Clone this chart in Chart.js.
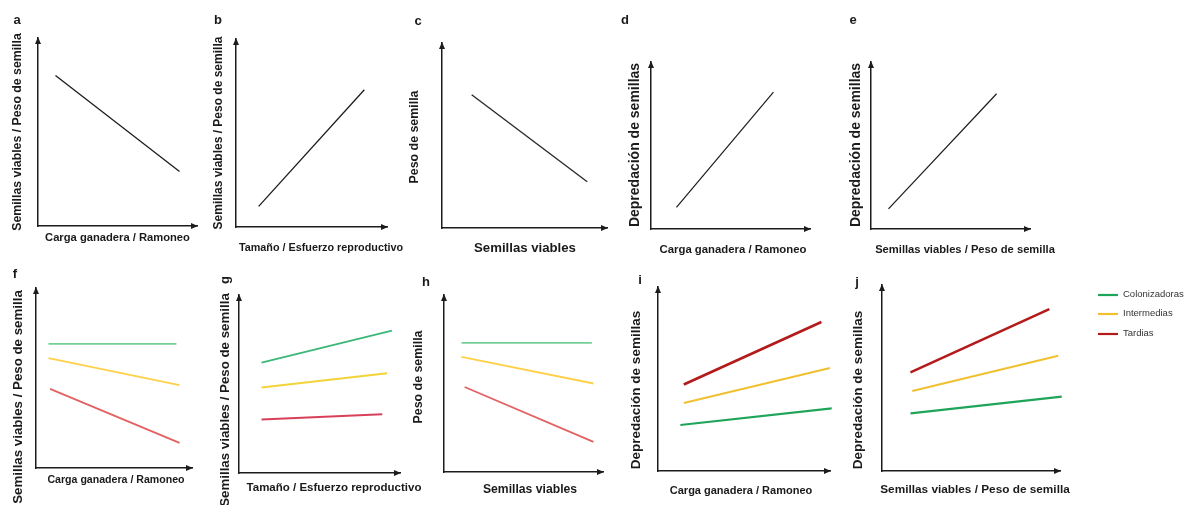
<!DOCTYPE html>
<html>
<head>
<meta charset="utf-8">
<script src="https://cdn.jsdelivr.net/npm/chart.js@4.4.1/dist/chart.umd.min.js"></script>
<style>
html,body{margin:0;padding:0;background:#fff;}
body{width:1187px;height:505px;position:relative;overflow:hidden;}
canvas{position:absolute;}
</style>
</head>
<body>
<script>
// ---------- DATA (conceptual axes, arbitrary 0–10 units) ----------
const seriesNames = ['Colonizadoras', 'Intermedias', 'Tardias'];
const axisMin = 0;
const axisMax = 10;

const aLine = [[1.1, 8.0], [8.9, 2.9]];
const bLine = [[1.5, 1.1], [8.5, 7.3]];
const cLine = [[1.8, 7.2], [8.8, 2.5]];
const dLine = [[1.6, 1.3], [7.7, 8.2]];
const eLine = [[1.1, 1.2], [7.9, 8.1]];

const fColonizadoras = [[0.8, 6.9], [9.0, 6.9]];
const fIntermedias   = [[0.8, 6.1], [9.2, 4.6]];
const fTardias       = [[0.9, 4.4], [9.2, 1.4]];

const gColonizadoras = [[1.4, 6.2], [9.5, 8.0]];
const gIntermedias   = [[1.4, 4.8], [9.2, 5.6]];
const gTardias       = [[1.4, 3.0], [8.9, 3.3]];

const hColonizadoras = [[1.1, 7.3], [9.3, 7.3]];
const hIntermedias   = [[1.1, 6.5], [9.4, 5.0]];
const hTardias       = [[1.3, 4.8], [9.4, 1.7]];

const iColonizadoras = [[1.3, 2.5], [10.1, 3.4]];
const iIntermedias   = [[1.5, 3.7], [10.0, 5.6]];
const iTardias       = [[1.5, 4.7], [9.5, 8.1]];

const jColonizadoras = [[1.6, 3.1], [10.1, 4.0]];
const jIntermedias   = [[1.7, 4.3], [9.9, 6.2]];
const jTardias       = [[1.6, 5.3], [9.4, 8.7]];

const panelLetters = ['a', 'b', 'c', 'd', 'e', 'f', 'g', 'h', 'i', 'j'];
const yTitles = [
  'Semillas viables / Peso de semilla', 'Semillas viables / Peso de semilla', 'Peso de semilla',
  'Depredación de semillas', 'Depredación de semillas',
  'Semillas viables / Peso de semilla', 'Semillas viables / Peso de semilla', 'Peso de semilla',
  'Depredación de semillas', 'Depredación de semillas'
];
const xTitles = [
  'Carga ganadera / Ramoneo', 'Tamaño / Esfuerzo reproductivo', 'Semillas viables',
  'Carga ganadera / Ramoneo', 'Semillas viables / Peso de semilla',
  'Carga ganadera / Ramoneo', 'Tamaño / Esfuerzo reproductivo', 'Semillas viables',
  'Carga ganadera / Ramoneo', 'Semillas viables / Peso de semilla'
];

// ---------- STYLE / LAYOUT ----------
const FONT = '"Liberation Sans", Arial, Helvetica, sans-serif';
const INK = '#1c1c1c';
const pale = {g: '#74cf97', y: '#ffd04a', r: '#e26262'};
const mid  = {g: '#3cb878', y: '#f2d43a', r: '#d8405a'};
const deep = {g: '#1fa55a', y: '#f0c030', r: '#b31b1b'};

const seriesSpec = [
  [[aLine, INK, 1.3]],
  [[bLine, INK, 1.3]],
  [[cLine, '#2a2a2a', 1.4]],
  [[dLine, INK, 1.2]],
  [[eLine, INK, 1.2]],
  [[fColonizadoras, pale.g, 1.8], [fIntermedias, pale.y, 1.8], [fTardias, pale.r, 1.8]],
  [[gColonizadoras, mid.g, 2], [gIntermedias, mid.y, 2], [gTardias, mid.r, 2]],
  [[hColonizadoras, pale.g, 1.8], [hIntermedias, pale.y, 1.8], [hTardias, pale.r, 1.8]],
  [[iColonizadoras, deep.g, 2.2], [iIntermedias, deep.y, 2], [iTardias, deep.r, 2.6]],
  [[jColonizadoras, deep.g, 2.2], [jIntermedias, deep.y, 2], [jTardias, deep.r, 2.6]]
];

// ax: y-axis x, ay: x-axis y, xe: x-axis end, yt: y-axis top (page px)
// yT / xT: axis-title centre [x, y, font size]; L: panel letter [x, y, rotated]
const layoutSpec = [
  {ax: 38,  ay: 226, xe: 197,  yt: 38,  yT: [18, 132, 12.3],  xT: [117.5, 238, 11.2], L: [17, 20]},
  {ax: 236, ay: 227, xe: 387,  yt: 39,  yT: [219, 133, 12.0], xT: [321, 248, 10.8],   L: [218, 20]},
  {ax: 442, ay: 228, xe: 607,  yt: 43,  yT: [415, 137, 12.4], xT: [525, 248, 13.2],   L: [418, 21]},
  {ax: 651, ay: 229, xe: 810,  yt: 62,  yT: [635, 145, 14],   xT: [733, 250, 11.35],  L: [625, 20]},
  {ax: 871, ay: 229, xe: 1030, yt: 62,  yT: [856, 145, 14],   xT: [965, 250, 11.2],   L: [853, 20]},
  {ax: 36,  ay: 468, xe: 192,  yt: 288, yT: [18, 397, 13.3],  xT: [116, 480, 10.6],   L: [15, 274]},
  {ax: 239, ay: 473, xe: 400,  yt: 295, yT: [225, 400, 13.3], xT: [334, 488, 11.5],   L: [225, 280, true]},
  {ax: 444, ay: 472, xe: 603,  yt: 295, yT: [419, 377, 12.4], xT: [530, 490, 12.2],   L: [426, 282]},
  {ax: 658, ay: 471, xe: 830,  yt: 287, yT: [636, 390, 13.5], xT: [741, 491, 11],     L: [640, 280]},
  {ax: 882, ay: 471, xe: 1060, yt: 285, yT: [858, 390, 13.5], xT: [975, 490, 11.8],   L: [857, 282], cr: 1187,
   legend: {x1: 1098, x2: 1118, tx: 1123, ys: [295, 314, 334]}}
];

// ---------- PLUGIN: arrowheads, axis titles, panel letter, legend ----------
const panelDecor = {
  id: 'panelDecor',
  afterDraw(chart, args, o) {
    const {ctx, chartArea: a} = chart;
    ctx.save();
    ctx.fillStyle = INK;
    ctx.beginPath();
    ctx.moveTo(a.left, a.top - 1);
    ctx.lineTo(a.left - 3, a.top + 6);
    ctx.lineTo(a.left + 3, a.top + 6);
    ctx.closePath();
    ctx.fill();
    ctx.beginPath();
    ctx.moveTo(a.right + 1, a.bottom);
    ctx.lineTo(a.right - 6, a.bottom - 3);
    ctx.lineTo(a.right - 6, a.bottom + 3);
    ctx.closePath();
    ctx.fill();

    ctx.fillStyle = '#1a1a1a';
    ctx.textAlign = 'center';
    ctx.textBaseline = 'middle';
    // x-axis title
    ctx.font = 'bold ' + o.xT[2] + 'px ' + FONT;
    ctx.fillText(o.xText, o.xT[0], o.xT[1]);
    // y-axis title (rotated)
    ctx.save();
    ctx.translate(o.yT[0], o.yT[1]);
    ctx.rotate(-Math.PI / 2);
    ctx.font = 'bold ' + o.yT[2] + 'px ' + FONT;
    ctx.fillText(o.yText, 0, 0);
    ctx.restore();
    // panel letter
    ctx.font = 'bold 13px ' + FONT;
    ctx.save();
    ctx.translate(o.L[0], o.L[1]);
    if (o.L[2]) ctx.rotate(-Math.PI / 2);
    ctx.fillText(o.letter, 0, 0);
    ctx.restore();

    if (o.legend) {
      const Lg = o.legend;
      chart.data.datasets.forEach((ds, k) => {
        ctx.strokeStyle = ds.borderColor;
        ctx.lineWidth = 2.2;
        ctx.beginPath();
        ctx.moveTo(Lg.x1, Lg.ys[k]);
        ctx.lineTo(Lg.x2, Lg.ys[k]);
        ctx.stroke();
        ctx.fillStyle = '#333';
        ctx.font = '9.5px ' + FONT;
        ctx.textAlign = 'left';
        ctx.fillText(ds.label, Lg.tx, Lg.ys[k] - 1);
      });
    }
    ctx.restore();
  }
};

// ---------- BUILD ----------
layoutSpec.forEach((p, i) => {
  const row2 = i >= 5;
  const cl = Math.floor(Math.min(p.yT[0] - p.yT[2] * 0.8, p.L[0] - 9));
  const ct = row2 ? 255 : 0;
  const cb = row2 ? 505 : 258;
  const cr = p.cr || Math.ceil(Math.max(p.xe + 12, p.xT[0] + 125));

  const cv = document.createElement('canvas');
  cv.width = cr - cl;
  cv.height = cb - ct;
  cv.style.left = cl + 'px';
  cv.style.top = ct + 'px';
  document.body.appendChild(cv);

  const rel = (pt) => [pt[0] - cl, pt[1] - ct, pt[2]];

  const specs = seriesSpec[i];
  const datasets = specs.map((s, k) => ({
    label: specs.length > 1 ? seriesNames[k] : yTitles[i],
    data: s[0].map(([x, y]) => ({x, y})),
    borderColor: s[1],
    borderWidth: s[2],
    pointRadius: 0,
    pointHoverRadius: 0,
    fill: false,
    tension: 0,
    clip: false,
    borderCapStyle: 'butt'
  }));

  let legend = null;
  if (p.legend) {
    legend = {x1: p.legend.x1 - cl, x2: p.legend.x2 - cl, tx: p.legend.tx - cl,
              ys: p.legend.ys.map(v => v - ct)};
  }

  new Chart(cv, {
    type: 'line',
    data: {datasets},
    plugins: [panelDecor],
    options: {
      responsive: false,
      animation: false,
      events: [],
      layout: {padding: {left: p.ax - cl, top: p.yt - ct, right: cr - p.xe, bottom: cb - p.ay}},
      plugins: {
        legend: {display: false},
        tooltip: {enabled: false},
        panelDecor: {
          letter: panelLetters[i], L: rel(p.L),
          xText: xTitles[i], xT: rel(p.xT),
          yText: yTitles[i], yT: rel(p.yT),
          legend
        }
      },
      scales: {
        x: {
          type: 'linear', min: axisMin, max: axisMax,
          grid: {display: false, drawTicks: false},
          ticks: {display: false},
          border: {display: true, color: INK, width: 1.5},
          title: {display: false, text: xTitles[i]}
        },
        y: {
          type: 'linear', min: axisMin, max: axisMax,
          grid: {display: false, drawTicks: false},
          ticks: {display: false},
          border: {display: true, color: INK, width: 1.5},
          title: {display: false, text: yTitles[i]}
        }
      }
    }
  });
});
</script>
</body>
</html>
